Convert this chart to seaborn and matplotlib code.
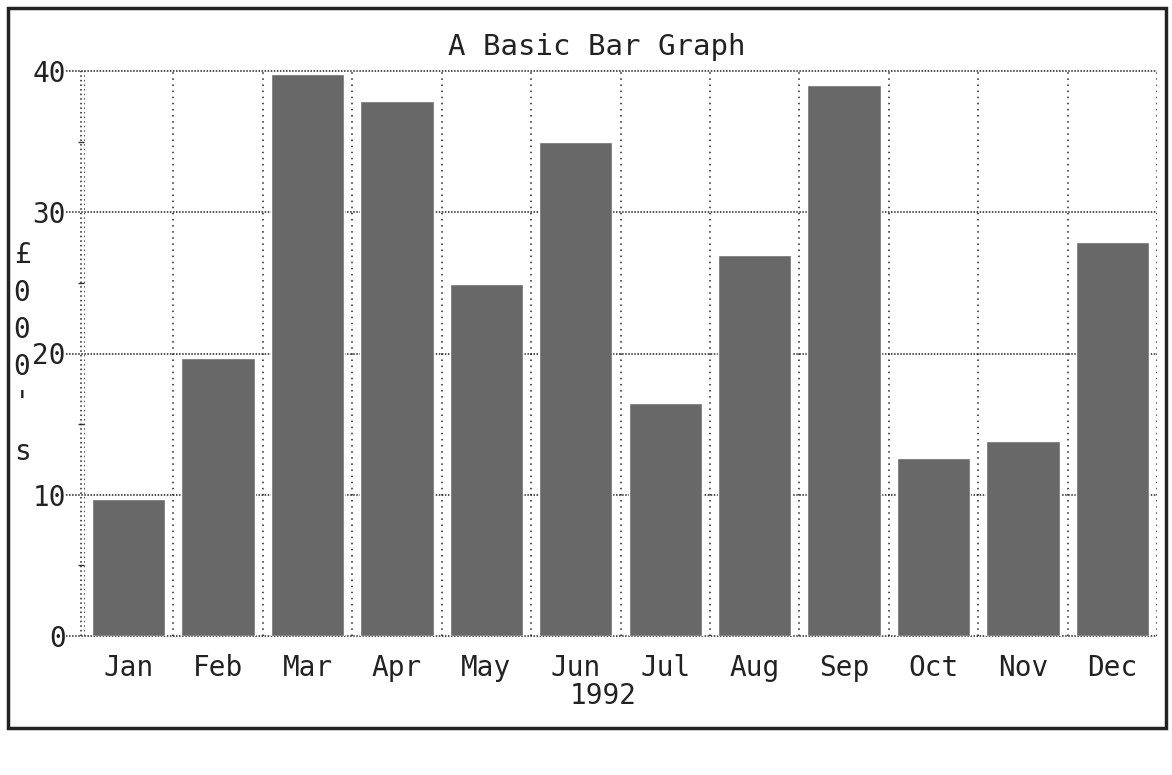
import numpy as np
import pandas as pd
import seaborn as sns
import matplotlib.pyplot as plt
from matplotlib.patches import Rectangle

months = ["Jan", "Feb", "Mar", "Apr", "May", "Jun", "Jul", "Aug", "Sep", "Oct", "Nov", "Dec"]
sales = [9.7, 19.7, 39.8, 37.9, 24.9, 35.0, 16.5, 27.0, 39.0, 12.6, 13.8, 27.9]
y_ticks = [0, 10, 20, 30, 40]
y_label_chars = ["£", "0", "0", "0", "'", "s"]

sns.set_style("white")
plt.rcParams['font.family'] = ['DejaVu Sans Mono']
FS = 20
INK = "#222222"

df = pd.DataFrame({"month": months, "sales": sales})

fig = plt.figure(figsize=(11.72, 7.75), dpi=100)
ax = fig.add_axes([84 / 1172, 1 - 636 / 775, (1157 - 84) / 1172, (636 - 71) / 775])

sns.barplot(data=df, x="month", y="sales", color="#686868", saturation=1,
            width=0.82, ax=ax, zorder=3)

ax.set_xlim(-0.5, 11.5)
ax.set_ylim(0, 40)

# dotted grid like the old printer output
for v in y_ticks:
    ax.axhline(v, xmin=-0.017, xmax=1, color=INK, lw=1.1,
               linestyle=(0, (1, 1)), clip_on=False, zorder=1)
for k in range(12):
    ax.axvline(k + 0.5, color=INK, lw=1.1, linestyle=(0, (1, 3)), zorder=1)
ax.axvline(-0.5, color=INK, lw=1.1, linestyle=(0, (1, 2)), zorder=1)
ax.axvline(-0.535, color=INK, lw=1.1, linestyle=(0, (1, 2)), zorder=1, clip_on=False)

for s in ax.spines.values():
    s.set_visible(False)

ax.set_yticks(y_ticks)
ax.set_yticks([5, 15, 25, 35], minor=True)
ax.tick_params(axis="y", which="major", length=0, pad=13, labelsize=FS, labelcolor=INK)
ax.tick_params(axis="y", which="minor", left=True, length=4, width=1, color="#333333")
ax.tick_params(axis="x", length=0, pad=13, labelsize=FS, labelcolor=INK)
ax.set_xlabel("")
ax.set_ylabel("")

fig.text(597 / 1172, 1 - 47 / 775, "A Basic Bar Graph", ha="center", va="center",
         fontsize=FS + 1, color=INK)
fig.text(603 / 1172, 1 - 696 / 775, "1992", ha="center", va="center", fontsize=FS, color=INK)

for ch, ypix in zip(y_label_chars, [255, 293, 330, 367, 403, 452]):
    fig.text(22 / 1172, 1 - ypix / 775, ch, ha="center", va="center", fontsize=FS, color=INK)

fig.add_artist(Rectangle((8 / 1172, 1 - 728 / 775), (1166 - 8) / 1172, (728 - 8) / 775,
                         transform=fig.transFigure, fill=False, lw=2.5, ec=INK))

fig.savefig("out.png", dpi=100)
